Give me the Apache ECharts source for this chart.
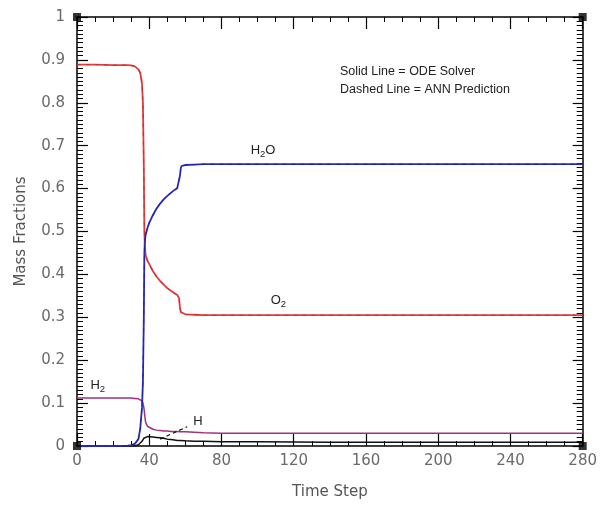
<!DOCTYPE html>
<html>
<head>
<meta charset="utf-8">
<script src="https://cdn.jsdelivr.net/npm/echarts@6/dist/echarts.min.js"></script>
<style>html,body{margin:0;padding:0;background:#fff}#c{width:600px;height:506px}</style>
</head>
<body>
<div id="c"></div>
<script>
// ---- data ----
var timeSteps = [0, 10, 20, 28, 30, 32, 33, 34, 35, 36, 36.5, 37, 37.3, 37.6, 38, 39, 40, 42, 44, 46, 48, 50, 52, 54, 55, 55.5, 56.5, 57, 57.5, 58, 60, 65, 70, 80, 100, 140, 200, 240, 280];
var o2  = [0.889, 0.889, 0.888, 0.888, 0.887, 0.885, 0.882, 0.878, 0.87, 0.845, 0.8, 0.65, 0.5, 0.462, 0.445, 0.432, 0.424, 0.408, 0.395, 0.385, 0.376, 0.368, 0.362, 0.356, 0.353, 0.352, 0.345, 0.322, 0.312, 0.309, 0.307, 0.306, 0.305, 0.305, 0.305, 0.305, 0.305, 0.305, 0.305];
var h2o = [0, 0, 0, 0.001, 0.002, 0.005, 0.009, 0.016, 0.04, 0.09, 0.15, 0.3, 0.45, 0.478, 0.492, 0.508, 0.52, 0.538, 0.553, 0.565, 0.575, 0.583, 0.59, 0.597, 0.6, 0.601, 0.605, 0.63, 0.648, 0.653, 0.655, 0.656, 0.657, 0.657, 0.657, 0.657, 0.657, 0.657, 0.657];
var h2  = [0.112, 0.112, 0.112, 0.112, 0.112, 0.111, 0.111, 0.11, 0.109, 0.105, 0.1, 0.09, 0.08, 0.068, 0.055, 0.046, 0.042, 0.039, 0.037, 0.036, 0.035, 0.035, 0.034, 0.034, 0.034, 0.034, 0.033, 0.033, 0.033, 0.033, 0.033, 0.032, 0.031, 0.030, 0.030, 0.030, 0.030, 0.030, 0.030];
var hRad = [0, 0, 0, 0, 0, 0, 0.001, 0.003, 0.006, 0.011, 0.014, 0.018, 0.02, 0.021, 0.022, 0.022, 0.022, 0.021, 0.02, 0.019, 0.018, 0.016, 0.015, 0.014, 0.014, 0.013, 0.013, 0.013, 0.013, 0.012, 0.012, 0.011, 0.011, 0.01, 0.01, 0.009, 0.009, 0.009, 0.009];
var xTicks = [0, 40, 80, 120, 160, 200, 240, 280];
var yTicks = [0, 0.1, 0.2, 0.3, 0.4, 0.5, 0.6, 0.7, 0.8, 0.9, 1];
var corners = [[0, 0], [0, 1], [280, 0], [280, 1]];
var labelH2O = [103, 0.69], labelO2 = [111.5, 0.34], labelH2 = [11.5, 0.142], labelH = [67, 0.058];
var hArrow = [[46, 0.016], [61, 0.045]];

function pairs(arr) { return timeSteps.map(function (t, i) { return [t, arr[i]]; }); }

var chart = echarts.init(document.getElementById('c'), null, {renderer: 'canvas'});
var font = 'DejaVu Sans';
var rich = {
  n: {fontSize: 13, fontFamily: 'Liberation Sans', color: '#222'},
  s: {fontSize: 9.5, fontFamily: 'Liberation Sans', color: '#222', padding: [9, 0, 0, 0]}
};
function textPoint(coord, fmt) {
  return {
    coord: coord, symbol: 'circle', symbolSize: 0,
    label: {show: true, position: 'inside', formatter: fmt, rich: rich}
  };
}
function axisCommon(extra) {
  return Object.assign({
    type: 'value',
    axisLine: {show: true, onZero: false, lineStyle: {color: '#000', width: 1.5}},
    splitLine: {show: false}
  }, extra);
}
var option = {
  animation: false,
  backgroundColor: '#fff',
  grid: {left: 77, top: 17, width: 510, height: 429, containLabel: false},
  xAxis: [
    axisCommon({min: 0, max: 280, interval: 40, position: 'bottom',
      name: 'Time Step', nameLocation: 'middle', nameGap: 39,
      nameTextStyle: {fontFamily: font, fontSize: 15, color: '#555'},
      axisTick: {show: true, inside: true, length: 12, lineStyle: {color: '#000', width: 1.2}},
      minorTick: {show: true, splitNumber: 4, length: 5, lineStyle: {color: '#000', width: 1}},
      axisLabel: {fontFamily: font, fontSize: 15, color: '#6a6a6a', margin: 8,
        formatter: function (v) { return xTicks.indexOf(v) >= 0 ? String(v) : ''; }}
    }),
    axisCommon({min: 0, max: 280, interval: 40, position: 'top',
      axisTick: {show: true, inside: true, length: 12, lineStyle: {color: '#000', width: 1.2}},
      minorTick: {show: true, splitNumber: 4, length: 5, lineStyle: {color: '#000', width: 1}},
      axisLabel: {show: false}
    })
  ],
  yAxis: [
    axisCommon({min: 0, max: 1, interval: 0.1, position: 'left',
      name: 'Mass Fractions', nameLocation: 'middle', nameGap: 48,
      nameTextStyle: {fontFamily: font, fontSize: 15, color: '#555'},
      axisTick: {show: true, inside: true, length: 11, lineStyle: {color: '#000', width: 1.2}},
      minorTick: {show: true, splitNumber: 10, length: 6, lineStyle: {color: '#000', width: 1}},
      axisLabel: {fontFamily: font, fontSize: 15, color: '#6a6a6a', margin: 12,
        formatter: function (v) {
          var r = Math.round(v * 10) / 10;
          return yTicks.indexOf(r) >= 0 ? String(r) : '';
        }}
    }),
    axisCommon({min: 0, max: 1, interval: 0.1, position: 'right',
      axisTick: {show: true, inside: true, length: 10, lineStyle: {color: '#000', width: 1.2}},
      minorTick: {show: true, splitNumber: 10, length: 6, lineStyle: {color: '#000', width: 1}},
      axisLabel: {show: false}
    })
  ],
  graphic: [
    {type: 'text', left: 340, top: 65, style: {text: 'Solid Line = ODE Solver', fontFamily: 'Liberation Sans', fontSize: 12.5, fill: '#222'}},
    {type: 'text', left: 340, top: 83, style: {text: 'Dashed Line = ANN Prediction', fontFamily: 'Liberation Sans', fontSize: 12.5, fill: '#222'}}
  ],
  series: [
    {type: 'line', name: 'H', data: pairs(hRad), showSymbol: false, lineStyle: {color: '#111', width: 1.5}, z: 3,
      markLine: {silent: true, symbol: ['none', 'none'], lineStyle: {color: '#111', type: [4, 3], width: 1.2},
        label: {show: false}, data: [[{coord: hArrow[0]}, {coord: hArrow[1]}]]},
      markPoint: {silent: true, data: [textPoint(labelH, '{n|H}')]}
    },
    {type: 'line', name: 'H2', data: pairs(h2), showSymbol: false, lineStyle: {color: '#a0327e', width: 1.5}, z: 3,
      markPoint: {silent: true, data: [textPoint(labelH2, '{n|H}{s|2}')]}
    },
    {type: 'line', name: 'O2', data: pairs(o2), showSymbol: false, lineStyle: {color: '#e83a3a', width: 1.8}, z: 3,
      markPoint: {silent: true, data: [textPoint(labelO2, '{n|O}{s|2}')]}
    },
    {type: 'line', name: 'H2O', data: pairs(h2o), showSymbol: false, lineStyle: {color: '#2a2ab8', width: 1.8}, z: 4,
      markPoint: {silent: true, data: [textPoint(labelH2O, '{n|H}{s|2}{n|O}')]}
    },
    {type: 'line', name: 'O2 ANN', data: pairs(o2), showSymbol: false, lineStyle: {color: '#b03030', width: 0.8, type: [4, 5]}, z: 5},
    {type: 'line', name: 'H2O ANN', data: pairs(h2o), showSymbol: false, lineStyle: {color: '#20208a', width: 0.8, type: [4, 5]}, z: 5},
    {type: 'scatter', name: 'corners', data: corners, symbol: 'rect', symbolSize: 8, itemStyle: {color: '#000'}, z: 10, silent: true}
  ]
};
chart.setOption(option);
</script>
</body>
</html>
